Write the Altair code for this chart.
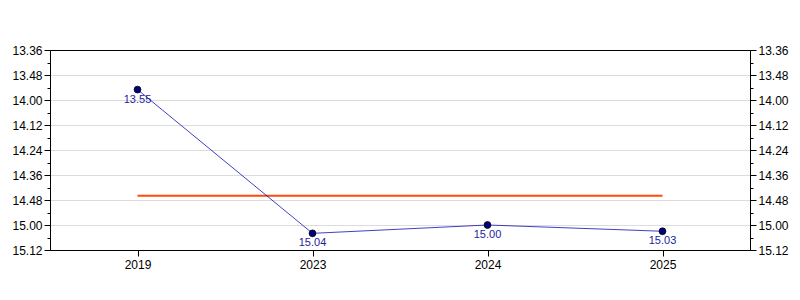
import altair as alt
import pandas as pd

# ---- data ----
years = ["2019", "2023", "2024", "2025"]
times = ["13.55", "15.04", "15.00", "15.03"]          # minutes.seconds
y_domain_sec = [816, 912]                               # 13.36 .. 15.12
tick_values_sec = [816, 822, 828, 834, 840, 846, 852, 858, 864,
                   870, 876, 882, 888, 894, 900, 906, 912]

def to_sec(t):
    m, s = t.split(".")
    return int(m) * 60 + int(s)

df = pd.DataFrame({"year": years, "time": times, "sec": [to_sec(t) for t in times]})

FONT = "Liberation Sans"
label_expr = ("datum.value % 12 == 0 ? (floor(datum.value / 60) + '.' + "
              "(datum.value % 60 < 10 ? '0' : '') + (datum.value % 60)) : ''")
major_test = "datum.value % 12 == 0"
grid_test = "datum.value % 12 == 0 && datum.value > 816 && datum.value < 912"

yscale = alt.Scale(domain=y_domain_sec, reverse=True, nice=False, zero=False)

def y_axis(orient, grid):
    return alt.Axis(
        title=None, orient=orient, values=tick_values_sec, labelExpr=label_expr,
        labelOverlap=False, labelFlush=False,
        tickSize={"condition": {"test": major_test, "value": 6}, "value": 3},
        tickColor="black", domainColor="black", labelColor="black",
        labelFont=FONT, labelFontSize=12, labelPadding=2,
        grid=grid, gridColor="#dcdcdc", gridWidth=1,
        gridOpacity={"condition": {"test": grid_test, "value": 1}, "value": 0},
    )

xenc = alt.X("year:N", sort=years, scale=alt.Scale(type="point", padding=0.5),
             axis=alt.Axis(title=None, labelAngle=0, tickSize=6, tickColor="black",
                           domainColor="black", labelColor="black", labelFont=FONT,
                           labelFontSize=12, labelPadding=3, grid=False))

base = alt.Chart(df)

avg = base.mark_line(color="#ff4a0a", strokeWidth=2).transform_joinaggregate(
    avg_raw="mean(sec)").transform_calculate(avg="round(datum.avg_raw)").encode(
    x=xenc, y=alt.Y("avg:Q", scale=yscale, axis=y_axis("left", True)))

line = base.mark_line(color="#1010b0", strokeWidth=0.8).encode(
    x=xenc, y=alt.Y("sec:Q", scale=yscale, axis=y_axis("left", True)))

points = base.mark_circle(color="#000080", stroke="black", strokeWidth=0.8,
                          size=46, opacity=1).encode(
    x=xenc, y=alt.Y("sec:Q", scale=yscale, axis=y_axis("left", True)))

labels = base.mark_text(dy=10, color="#1c1ca0", fontSize=11, font=FONT).encode(
    x=xenc, y=alt.Y("sec:Q", scale=yscale, axis=y_axis("left", True)), text="time:N")

main = alt.layer(avg, line, points, labels)

right = base.mark_point(opacity=0).encode(
    x=xenc, y=alt.Y("sec:Q", scale=yscale, axis=y_axis("right", False)))

chart = alt.layer(main, right).resolve_scale(y="independent").properties(
    width=700, height=200,
    autosize=alt.AutoSizeParams(type="none"),
    padding={"left": 50, "top": 50, "right": 50, "bottom": 50},
    background="white",
).configure_view(stroke="black", strokeWidth=1)

chart.save("out.html", embed_options={"renderer": "svg", "actions": False})
